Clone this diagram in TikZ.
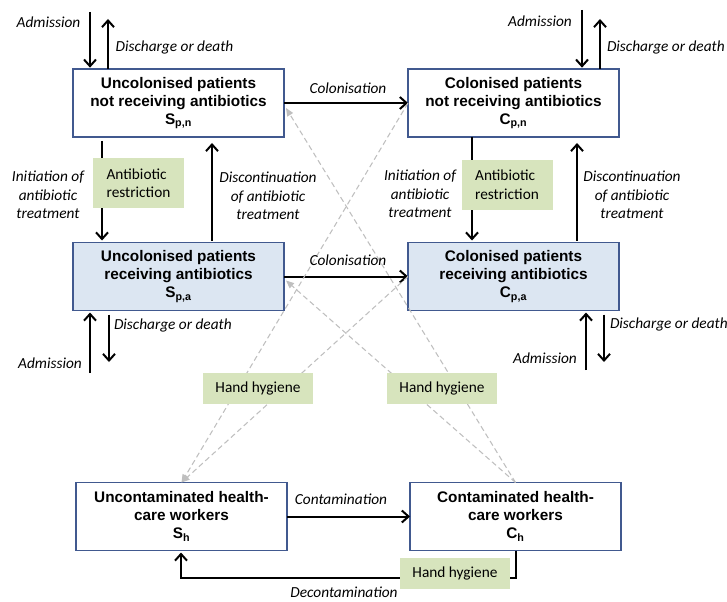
\documentclass[tikz,border=0pt]{standalone}
\usepackage{fontspec}
\setmainfont{Carlito}
\newfontfamily\arialfont{Liberation Sans}
\usetikzlibrary{arrows.meta,calc}
\definecolor{boxblue}{HTML}{41598F}
\definecolor{abfill}{HTML}{DCE6F2}
\definecolor{hhgreen}{HTML}{D7E4BD}
\definecolor{dashgray}{HTML}{BFBFBF}

\begin{document}
\begin{tikzpicture}[y=0.75pt, x=0.75pt, yscale=-1, inner sep=0pt, outer sep=0pt,
	compbox/.style={rectangle, draw=boxblue, line width=1.1, minimum width=158.25pt, minimum height=51pt, align=center, font=\arialfont\bfseries\fontsize{11.5}{13.5}\selectfont},
	greenbox/.style={rectangle, fill=hhgreen, align=left, font=\fontsize{11.5}{13.9}\selectfont},
	lbl/.style={align=center, font=\itshape\fontsize{11.5}{13.9}\selectfont},
	flow/.style={line width=1.5, -{Straight Barb[length=5pt,width=9pt]}},
	hhflow/.style={draw=dashgray, line width=0.8, dash pattern=on 4pt off 2.5pt, -{Triangle[length=6pt,width=5pt]}}]
\useasboundingbox (0,0) rectangle (727,602);

% compartments
\node[compbox] (SPN) at (178.5,103) {Uncolonised patients\\not receiving antibiotics\\S\textsubscript{p,n}};
\node[compbox] (CPN) at (513.5,103) {Colonised patients\\not receiving antibiotics\\C\textsubscript{p,n}};
\node[compbox, fill=abfill] (SPA) at (178.5,276.5) {Uncolonised patients\\receiving antibiotics\\S\textsubscript{p,a}};
\node[compbox, fill=abfill] (CPA) at (513.5,276.5) {Colonised patients\\receiving antibiotics\\C\textsubscript{p,a}};
\node[compbox] (SH) at (181.5,516.5) {Uncontaminated health-\\care workers\\S\textsubscript{h}};
\node[compbox] (CH) at (515.5,516.5) {Contaminated health-\\care workers\\C\textsubscript{h}};

% admission and discharge
\coordinate (AdmSPN) at (90,12);
\coordinate (DisSPN) at (108,19);
\coordinate (AdmCPN) at (582,10);
\coordinate (DisCPN) at (600,19);
\coordinate (AdmSPA) at (90,373);
\coordinate (DisSPA) at (109,362);
\coordinate (AdmCPA) at (586,370);
\coordinate (DisCPA) at (604,362);
\draw[flow, shorten >=1] (AdmSPN) -- (AdmSPN |- SPN.north);
\draw[flow] (DisSPN |- SPN.north) -- (DisSPN);
\draw[flow, shorten >=1] (AdmCPN) -- (AdmCPN |- CPN.north);
\draw[flow] (DisCPN |- CPN.north) -- (DisCPN);
\draw[flow, shorten >=1.5] (AdmSPA) -- (AdmSPA |- SPA.south);
\draw[flow, shorten <=3] (DisSPA |- SPA.south) -- (DisSPA);
\draw[flow, shorten >=1.5] (AdmCPA) -- (AdmCPA |- CPA.south);
\draw[flow, shorten <=3] (DisCPA |- CPA.south) -- (DisCPA);

% antibiotic treatment
\draw[flow] ($(SPN.south west)+(29,4)$) -- ($(SPA.north west)+(29,-2)$);
\draw[flow] ($(SPA.north west)+(139,-2)$) -- ($(SPN.south west)+(139,6)$);
\draw[flow] ($(CPN.south west)+(64,0)$) -- ($(CPA.north west)+(64,-2)$);
\draw[flow] ($(CPA.north west)+(169,-2)$) -- ($(CPN.south west)+(169,6)$);

% colonisation and contamination
\draw[flow] (SPN) -- (CPN);
\draw[flow] (SPA) -- (CPA);
\draw[flow] (SH) -- (CH);
\draw[flow] ($(CH.south west)+(106,0)$) -- ++(0,27) -| ($(SH.south west)+(105,2)$);

% transmission through hands
\draw[hhflow] (CPN.west) -- (SH.north);
\draw[hhflow] (CPA.west) -- (SH.north);
\draw[hhflow] (CH.north) -- ($(SPN.east)+(2,5)$);
\draw[hhflow] (CH.north) -- ($(SPA.east)+(2,4)$);

% interventions
\node[greenbox, minimum width=68.25pt, minimum height=37.5pt] (ABL) at (138.5,183) {Antibiotic\\restriction};
\node[greenbox, minimum width=68.25pt, minimum height=37.5pt] (ABR) at (507,185) {Antibiotic\\restriction};
\node[greenbox, minimum width=82.5pt, minimum height=23.25pt] (HHL) at (258,388.5) {Hand hygiene};
\node[greenbox, minimum width=82.5pt, minimum height=23.25pt] (HHR) at (442,388) {Hand hygiene};
\node[greenbox, minimum width=82.5pt, minimum height=23.25pt] (HHB) at (455,573) {Hand hygiene};

% labels
\node[lbl] (AdmSPNlbl) at (48.5,22) {Admission};
\node[lbl] (DisSPNlbl) at (174.5,47) {Discharge or death};
\node[lbl] (AdmCPNlbl) at (540,21) {Admission};
\node[lbl, anchor=west] (DisCPNlbl) at (607,47) {Discharge or death};
\node[lbl] (ColNlbl) at (348,88) {Colonisation};
\node[lbl] (ColAlbl) at (348,260) {Colonisation};
\node[lbl] (IniLlbl) at (48,195) {Initiation of\\antibiotic\\treatment};
\node[lbl] (IniRlbl) at (420,194) {Initiation of\\antibiotic\\treatment};
\node[lbl] (DscLlbl) at (268,196) {Discontinuation\\of antibiotic\\treatment};
\node[lbl] (DscRlbl) at (632,195) {Discontinuation\\of antibiotic\\treatment};
\node[lbl, anchor=west] (DisSPAlbl) at (114,325) {Discharge or death};
\node[lbl] (AdmSPAlbl) at (50,363) {Admission};
\node[lbl, anchor=west] (DisCPAlbl) at (610,324) {Discharge or death};
\node[lbl] (AdmCPAlbl) at (545,358) {Admission};
\node[lbl] (ConLbl) at (341,499) {Contamination};
\node[lbl] (DeconLbl) at (344,592) {Decontamination};
\end{tikzpicture}
\end{document}
